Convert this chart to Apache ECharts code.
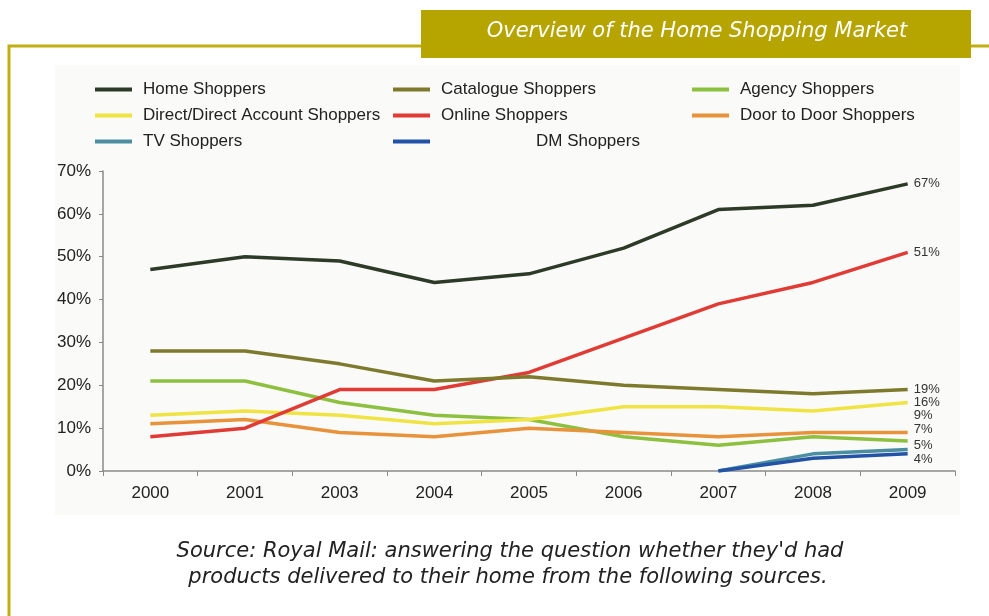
<!DOCTYPE html>
<html><head><meta charset="utf-8">
<script src="https://cdn.jsdelivr.net/npm/echarts@6/dist/echarts.min.js"></script>
<style>html,body{margin:0;padding:0;background:#fff}#c{width:989px;height:616px}</style>
</head><body><div id="c"></div>
<script>
const years = ['2000','2001','2003','2004','2005','2006','2007','2008','2009'];
const yTicks = [0,10,20,30,40,50,60,70];
const home      = [47,50,49,44,46,52,61,62,67];
const catalogue = [28,28,25,21,22,20,19,18,19];
const agency    = [21,21,16,13,12,8,6,8,7];
const direct    = [13,14,13,11,12,15,15,14,16];
const online    = [8,10,19,19,23,31,39,44,51];
const door      = [11,12,9,8,10,9,8,9,9];
const tv        = [null,null,null,null,null,null,0,4,5];
const dm        = [null,null,null,null,null,null,0,3,4];

const chart = echarts.init(document.getElementById('c'));
const F = 'Liberation Sans, Arial, sans-serif';
const G = 'DejaVu Sans, sans-serif';
function s(name, data, color, off, z) {
  return {name, type:'line', data, symbol:'none', z: z||2,
    lineStyle:{color, width:3.5}, itemStyle:{color},
    endLabel:{show:true, formatter:p=>p.value+'%', color:'#333', fontSize:13, fontFamily:F, offset:[4, off], distance:2}};
}
const legBase = {orient:'vertical', itemWidth:37, itemHeight:4, icon:'rect', itemGap:9,
  textStyle:{fontSize:17, color:'#222', fontFamily:F, padding:[0,0,0,6],
    rich:{dm:{fontSize:17, color:'#222', fontFamily:F, padding:[0,0,0,95]}}},
  formatter: n => n==='DM Shoppers' ? '{dm|DM Shoppers}' : n, selectedMode:false};
chart.setOption({
  animation:false,
  graphic:[
    {type:'rect', shape:{x:55,y:65,width:905,height:450}, style:{fill:'#fafaf8'}, z:-10},
    {type:'polyline', shape:{points:[[9,616],[9,46],[989,46]]}, style:{stroke:'#c2ad12', lineWidth:3, fill:null}, z:-5},
    {type:'rect', shape:{x:421,y:10,width:550,height:48}, style:{fill:'#b6a400'}, z:10},
    {type:'text', x:697, y:32, style:{text:'Overview of the Home Shopping Market', fill:'#fff', font:'italic 21px '+G, align:'center', verticalAlign:'middle'}, z:11},
    {type:'text', x:510, y:552, style:{text:"Source: Royal Mail: answering the question whether they'd had", fill:'#222', font:'italic 21px '+G, align:'center', verticalAlign:'middle'}},
    {type:'text', x:508, y:578, style:{text:"products delivered to their home from the following sources.", fill:'#222', font:'italic 21px '+G, align:'center', verticalAlign:'middle'}}
  ],
  legend:[
    Object.assign({left:90, top:76, data:['Home Shoppers','Direct/Direct Account Shoppers','TV Shoppers']}, legBase),
    Object.assign({left:388, top:76, data:['Catalogue Shoppers','Online Shoppers','DM Shoppers']}, legBase),
    Object.assign({left:687, top:76, data:['Agency Shoppers','Door to Door Shoppers']}, legBase)
  ],
  grid:{left:103, right:34, top:171, bottom:145, containLabel:false},
  xAxis:{type:'category', data:years, boundaryGap:true,
    axisLine:{lineStyle:{color:'#8a8a8a', width:1.5}},
    axisTick:{show:true, length:5, lineStyle:{color:'#8a8a8a'}},
    axisLabel:{color:'#222', fontSize:17, fontFamily:F, margin:14}},
  yAxis:{type:'value', min:0, max:70, interval:10,
    axisLine:{show:true, lineStyle:{color:'#8a8a8a', width:1.5}},
    axisTick:{show:true, length:4, lineStyle:{color:'#8a8a8a'}},
    splitLine:{show:false},
    axisLabel:{color:'#222', fontSize:17, fontFamily:F, margin:12, formatter: v => yTicks.includes(v) ? v+'%' : ''}},
  series:[
    s('Home Shoppers', home, '#2c3a27', 0, 8),
    s('Catalogue Shoppers', catalogue, '#7e7a2d', 0, 7),
    s('Agency Shoppers', agency, '#8dc03f', -12, 3),
    s('Direct/Direct Account Shoppers', direct, '#efe443', 0, 4),
    s('Online Shoppers', online, '#e03b34', 0, 6),
    s('Door to Door Shoppers', door, '#e8933b', -17, 5),
    s('TV Shoppers', tv, '#4a8ea0', -4, 2),
    s('DM Shoppers', dm, '#2353a6', 6, 3)
  ]
});
</script></body></html>
